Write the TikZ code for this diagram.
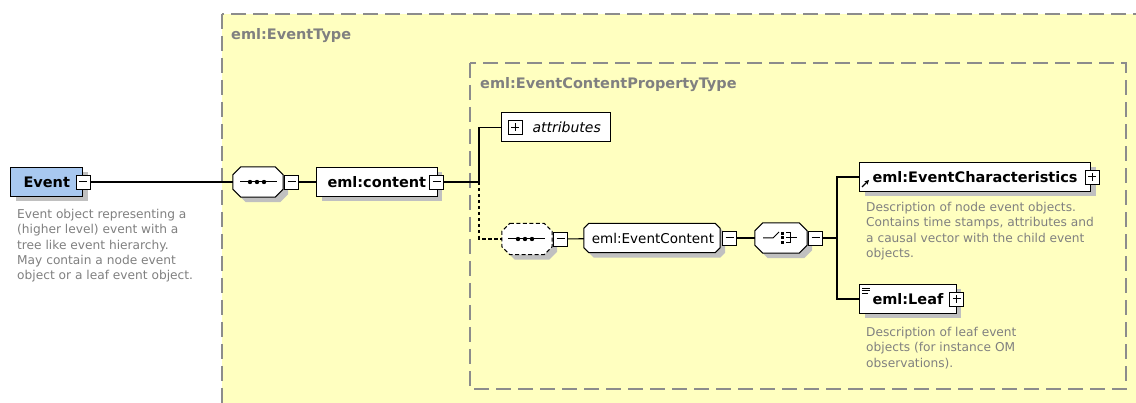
\documentclass[tikz,border=0pt]{standalone}
\usepackage{fontspec}
\setmainfont{DejaVu Sans}
\usetikzlibrary{arrows.meta,shadows}

\definecolor{paper}{RGB}{255,255,192}
\definecolor{frame}{RGB}{140,140,140}
\definecolor{notegray}{RGB}{128,128,128}
\definecolor{shadowgray}{RGB}{192,192,192}
\definecolor{evblue}{RGB}{168,200,240}

\tikzset{
  sh/.style={drop shadow={shadow xshift=5pt,shadow yshift=-5pt,fill=shadowgray,opacity=1}},
  elem/.style={draw, fill=white, line width=1pt, minimum height=29pt, inner ysep=0pt,
    anchor=west, font=\fontsize{14.5}{17}\bfseries\selectfont, sh},
  tog/.style={draw, fill=white, line width=0.8pt, minimum size=14pt, inner sep=0pt},
  toggleminus/.style={tog, path picture={\draw[line width=1pt]
      ([xshift=3pt]path picture bounding box.west) -- ([xshift=-3pt]path picture bounding box.east);}},
  toggleplus/.style={tog, path picture={\draw[line width=1pt]
      ([xshift=3pt]path picture bounding box.west) -- ([xshift=-3pt]path picture bounding box.east)
      ([yshift=-3pt]path picture bounding box.north) -- ([yshift=3pt]path picture bounding box.south);}},
  % invisible frame that gives a compositor its size and anchors
  slot/.style={rectangle, draw=none, fill=none, inner sep=0pt},
  % octagon outline around a slot: node, cut, x offset, y offset
  oct/.style n args={4}{insert path={
    ([shift={({#2+#3},#4)}]#1.north west) -- ([shift={({-#2+#3},#4)}]#1.north east)
    -- ([shift={(#3,{#2+#4})}]#1.north east) -- ([shift={(#3,{-#2+#4})}]#1.south east)
    -- ([shift={({-#2+#3},#4)}]#1.south east) -- ([shift={({#2+#3},#4)}]#1.south west)
    -- ([shift={(#3,{-#2+#4})}]#1.south west) -- ([shift={(#3,{#2+#4})}]#1.north west) -- cycle}},
  desc/.style={anchor=north west, align=left, inner sep=0pt, text=notegray,
    font=\fontsize{12.2}{15.3}\selectfont},
  title/.style={anchor=west, inner sep=0pt, text=notegray, font=\fontsize{14.5}{17}\bfseries\selectfont},
  wire/.style={line width=1.1pt},
  framebox/.style={draw=frame, line width=1.2pt, dash pattern=on 15pt off 7pt},
}

\begin{document}
\begin{tikzpicture}[x=1pt,y=-1pt]
\clip (0,0) rectangle (1136,403);
\fill[white] (0,0) rectangle (1136,403);

% type frames
\draw[framebox, fill=paper] (222,14) rectangle (1160,430);
\draw[framebox] (470,63) rectangle (1126,389);
\node[title] (tEvType) at (231,36) {eml:EventType};
\node[title] (tECPT) at (480,85) {eml:EventContentPropertyType};

% root element
\node[elem, fill=evblue, inner xsep=13pt] (ev) at (10,182) {Event\hspace{6pt}};
\node[toggleminus] (evt) at (ev.east) {};
\node[desc] (evd) at (17,209) {Event object representing a\\(higher level) event with a\\tree like event hierarchy.\\May contain a node event\\object or a leaf event object.};

% sequence compositor
\node[slot, minimum width=50pt, minimum height=30pt] (seq) at (258,182) {};
\fill[shadowgray, oct={seq}{8}{5}{5}];
\filldraw[fill=white, line width=1pt, oct={seq}{8}{0}{0}];
\draw[line width=1pt] ([xshift=-18pt]seq.center) -- ([xshift=19pt]seq.center);
\foreach \d in {-8,-1,6} \fill ([xshift=\d pt]seq.center) circle (2.2pt);
\node[toggleminus, anchor=west] (seqt) at ([xshift=1pt]seq.east) {};
\draw[wire] (evt) -- (seq);

% content element
\node[elem, inner xsep=11pt] (cont) at (316,182) {eml:content\hspace{10pt}};
\node[toggleminus] (contt) at ([xshift=-1pt]cont.east) {};
\draw[wire] (seqt) -- (cont);
\coordinate (j1) at (479,182);
\draw[wire] (contt) -- (j1);

% attributes
\node[draw, fill=white, line width=1pt, minimum height=29pt, inner xsep=10pt, inner ysep=0pt,
  anchor=west, font=\fontsize{14}{17}\itshape\selectfont] (attr) at (501,127.5) {\hspace*{21pt}attributes};
\node[toggleplus] (attrt) at ([xshift=14pt]attr.west) {};
\draw[wire] (j1) |- (attr);

% optional sequence
\node[slot, minimum width=50pt, minimum height=31pt] (seq2) at (527,239) {};
\fill[shadowgray, oct={seq2}{8}{5}{5}];
\filldraw[fill=white, line width=1pt, dash pattern=on 4pt off 2.5pt, oct={seq2}{8}{0}{0}];
\draw[line width=1pt] ([xshift=-19pt]seq2.center) -- ([xshift=18pt]seq2.center);
\foreach \d in {-9,-2,5} \fill ([xshift=\d pt]seq2.center) circle (2.2pt);
\node[toggleminus, anchor=west] (seq2t) at ([xshift=1pt]seq2.east) {};
\draw[wire, dash pattern=on 3.5pt off 2.5pt] (j1) |- (seq2);

% group reference
\node[slot, minimum width=136pt, minimum height=29pt] (grp) at (652,238) {};
\fill[shadowgray, oct={grp}{5}{5}{5}];
\filldraw[fill=white, line width=1pt, oct={grp}{5}{0}{0}];
\node[inner sep=0pt, font=\fontsize{13.5}{16}\selectfont] (grplabel) at ([xshift=1pt]grp.center) {eml:EventContent};
\node[toggleminus, anchor=west] (grpt) at ([xshift=2pt]grp.east) {};
\draw[wire] (seq2t) -- (grp);

% choice compositor
\node[slot, minimum width=52pt, minimum height=30pt] (cho) at (781,238) {};
\fill[shadowgray, oct={cho}{8}{5}{5}];
\filldraw[fill=white, line width=1pt, oct={cho}{8}{0}{0}];
\begin{scope}[shift={(cho.center)}]
  \draw[line width=1pt] (-18,0) -- (-8,0) -- (-2,-6);
  \fill (0,-6) rectangle (3,-3);
  \fill (0,-1.5) rectangle (3,1.5);
  \fill (0,3) rectangle (3,6);
  \draw[line width=1pt] (5,-5) -- (9,-5) -- (9,5) -- (5,5) (5,0) -- (16,0);
\end{scope}
\node[toggleminus, anchor=west] (chot) at ([xshift=1pt]cho.east) {};
\draw[wire] (grpt) -- (cho);
\coordinate (j2) at (837,238);
\draw[wire] (chot) -- (j2);

% EventCharacteristics reference
\node[elem, inner xsep=13pt] (ech) at (859,177) {eml:EventCharacteristics\hspace{7pt}};
\node[toggleplus] (echt) at ([xshift=1pt]ech.east) {};
\draw[-{Stealth[length=4.5pt,width=4.5pt]}, line width=1.3pt] ([shift={(3,10)}]ech.west) -- ++(7,-7);
\node[desc] (echd) at (866,202) {Description of node event objects.\\Contains time stamps, attributes and\\a causal vector with the child event\\objects.};
\draw[wire] (j2) |- (ech);

% Leaf element
\node[elem, inner xsep=13pt] (leaf) at (859,299) {eml:Leaf\hspace{6pt}};
\node[toggleplus] (leaft) at (leaf.east) {};
\foreach \k/\l in {0/8,2.5/8,5/6}
  \draw[line width=0.8pt] ([shift={(3,-11+\k)}]leaf.west) -- ++(\l,0);
\node[desc] (leafd) at (866,327) {Description of leaf event\\objects (for instance OM\\observations).};
\draw[wire] (j2) |- (leaf);
\end{tikzpicture}
\end{document}
